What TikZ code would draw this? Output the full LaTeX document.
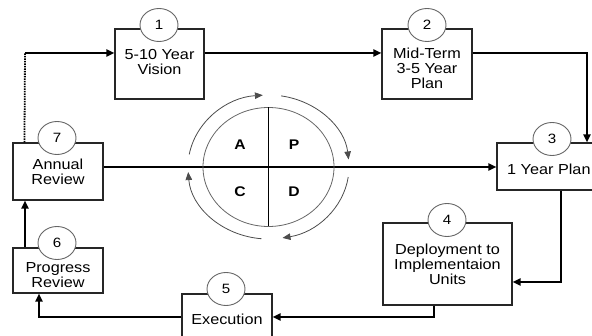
\documentclass[tikz,border=0pt]{standalone}
\usepackage{fontspec}
\setmainfont{Liberation Sans}[FakeStretch=1.12]
\usetikzlibrary{arrows.meta,shapes.geometric,calc}
\begin{document}
\begin{tikzpicture}[x=1pt,y=1pt,
  box/.style={draw=black!85,line width=1.1pt,fill=white,rectangle,inner sep=0pt},
  num/.style={draw=black!60,line width=0.9pt,fill=white,ellipse,minimum width=38pt,minimum height=33pt,inner sep=0pt,font=\fontsize{13.5}{13.5}\selectfont},
  txt/.style={align=center,inner sep=0pt,font=\fontsize{14.5}{15}\selectfont},
  conn/.style={line width=1.8pt,-{Triangle[length=8pt,width=7pt]}},
  cyc/.style={draw=black!70,line width=0.8pt,-{Triangle[length=8pt,width=6.5pt]}},
  quad/.style={font=\bfseries\fontsize{14}{14}\selectfont,inner sep=0pt}]
\useasboundingbox (0,0) rectangle (592,-336);
\clip (0,0) rectangle (592,-336);
% boxes
\node[box,minimum width=89pt,minimum height=70pt] (b1) at (159.5,-64) {};
\node[box,minimum width=90pt,minimum height=70pt] (b2) at (427,-64) {};
\node[box,minimum width=123pt,minimum height=47pt] (b3) at (558.5,-166.5) {};
\node[box,minimum width=129pt,minimum height=82pt] (b4) at (447.5,-264) {};
\node[box,minimum width=90pt,minimum height=52pt] (b5) at (227,-320) {};
\node[box,minimum width=90pt,minimum height=45pt] (b6) at (58,-270.5) {};
\node[box,minimum width=90pt,minimum height=57pt] (b7) at (58,-171.5) {};
% texts
\node[txt] (t1) at (159.5,-62) {5-10 Year\\Vision};
\node[txt] (t2) at (427,-68) {Mid-Term\\3-5 Year\\Plan};
\node[txt,anchor=west] (t3) at (507,-169) {1 Year Plan};
\node[txt] (t4) at (447.5,-264) {Deployment to\\Implementaion\\Units};
\node[txt] (t5) at (227,-319) {Execution};
\node[txt] (t6) at (58,-275.5) {Progress\\Review};
\node[txt] (t7) at (58,-171.5) {Annual\\Review};
% number circles
\node[num] (c1) at (159,-25) {1};
\node[num] (c2) at (427,-25) {2};
\node[num] (c3) at (552,-139) {3};
\node[num] (c4) at (447,-220) {4};
\node[num] (c5) at (226,-289) {5};
\node[num] (c6) at (57,-243) {6};
\node[num] (c7) at (57,-138) {7};
% connectors
\coordinate (k1) at (25,-53);
\draw[line width=1.8pt,dash pattern=on 1.5pt off 1pt] ($(b7.north west)+(12,0)$) -- (k1);
\draw[conn] (k1) -- (b1.west |- k1);
\draw[conn] (b1.east |- k1) -- (b2.west |- k1);
\coordinate (k2) at (587,-53);
\draw[conn] (b2.east |- k2) -- (k2) -- (k2 |- b3.north);
\coordinate (k3) at (0,-167);
\draw[conn] (b7.east |- k3) -- (b3.west |- k3);
\coordinate (k4) at (561,-282);
\draw[conn] (k4 |- b3.south) -- (k4) -- (b4.east |- k4);
\coordinate (k5) at (434,-317);
\draw[conn] (k5 |- b4.south) -- (k5) -- (b5.east |- k5);
\coordinate (k6) at (39,-317);
\draw[conn] (b5.west |- k6) -- (k6) -- (k6 |- b6.south);
\coordinate (k7) at (25,-250);
\draw[conn] (k7 |- b6.north) -- (k7 |- b7.south);
% PDCA
\coordinate (o) at (268.5,-167);
\draw[black!60,line width=0.8pt] (o) ellipse [x radius=65.5, y radius=59.5];
\draw[line width=1.4pt] ($(o)+(0,59.5)$) -- ($(o)+(0,-59.5)$);
\draw[cyc] ($(o)+(170:80.5 and 72)$) arc[start angle=170,end angle=94,x radius=80.5,y radius=72];
\draw[cyc] ($(o)+(81:80.5 and 72)$) arc[start angle=81,end angle=6,x radius=80.5,y radius=72];
\draw[cyc] ($(o)+(-8:80.5 and 72)$) arc[start angle=-8,end angle=-80,x radius=80.5,y radius=72];
\draw[cyc] ($(o)+(-95:80.5 and 72)$) arc[start angle=-95,end angle=-176,x radius=80.5,y radius=72];
\node[quad] (qa) at (240,-145) {A};
\node[quad] (qp) at (294,-145) {P};
\node[quad] (qc) at (240,-192) {C};
\node[quad] (qd) at (294,-192) {D};
\end{tikzpicture}
\end{document}
